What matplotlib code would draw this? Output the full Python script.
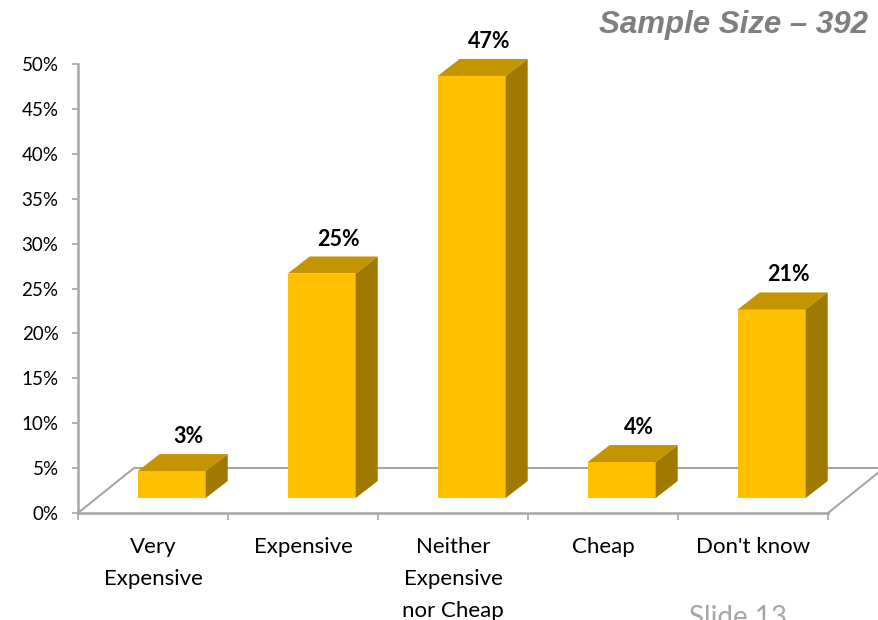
import matplotlib
matplotlib.use("Agg")
import matplotlib.pyplot as plt
from matplotlib.patches import Polygon
from matplotlib.ticker import FixedLocator

# ---- data ----
categories = ["Very\nExpensive", "Expensive", "Neither\nExpensive\nnor Cheap", "Cheap", "Don't know"]
values = [3, 25, 47, 4, 21]          # percent of respondents
y_ticks = [0, 5, 10, 15, 20, 25, 30, 35, 40, 45, 50]
y_tick_labels = [f"{t}%" for t in y_ticks]
title_text = "Sample Size \u2013 392"
footer_text = "Slide 13"

# ---- styling ----
FRONT = "#FFC000"
TOP = "#C49500"
SIDE = "#A07A00"
GRID = "#A6A6A6"
FONT = "Lato"

W, H, DPI = 879, 620, 100
fig = plt.figure(figsize=(W / DPI, H / DPI), dpi=DPI)
fig.patch.set_facecolor("white")

# plot area in pixels: category axis 78..828, value axis 513 (0%) .. 64 (50%)
ax = fig.add_axes([78 / W, (H - 513) / H, 750 / W, 449 / H])
n = len(categories)
ax.set_xlim(0, n)
ax.set_ylim(0, 0.5)
ax.set_facecolor("none")

# pixel -> data conversions for the oblique depth
PXX = n / 750.0
PXY = 0.5 / 449.0
floor_dx, floor_dy = 56 * PXX, 45 * PXY      # full floor depth
front_dx, front_dy = 18.7 * PXX, 15 * PXY    # bar front face depth
bar_dx, bar_dy = 22 * PXX, 17 * PXY          # bar thickness in depth
bar_w = 68 * PXX

# floor outline (back edge and side diagonals)
ax.plot([0, floor_dx, n + floor_dx, n], [0, floor_dy, floor_dy, 0],
        color=GRID, lw=1.5, clip_on=False, zorder=1)

centers = [i + 0.5 for i in range(n)]
fracs = [v / 100.0 for v in values]

# front faces
ax.bar([c + front_dx for c in centers], fracs, width=bar_w, bottom=front_dy,
       color=FRONT, edgecolor="none", zorder=3, clip_on=False)

for c, f, v in zip(centers, fracs, values):
    x0 = c + front_dx - bar_w / 2
    x1 = x0 + bar_w
    yb = front_dy
    yt = front_dy + f
    top = Polygon([(x0, yt), (x1, yt), (x1 + bar_dx, yt + bar_dy), (x0 + bar_dx, yt + bar_dy)],
                  closed=True, facecolor=TOP, edgecolor="none", zorder=3, clip_on=False)
    side = Polygon([(x1, yb), (x1 + bar_dx, yb + bar_dy), (x1 + bar_dx, yt + bar_dy), (x1, yt)],
                   closed=True, facecolor=SIDE, edgecolor="none", zorder=3, clip_on=False)
    ax.add_patch(top)
    ax.add_patch(side)
    ax.text(c + front_dx + 17 * PXX, yt + bar_dy + 11 * PXY, f"{v}%",
            ha="center", va="baseline", fontsize=15.5, fontweight="bold",
            family=FONT, color="black", zorder=5, clip_on=False)

# axes styling
for s in ("top", "right"):
    ax.spines[s].set_visible(False)
for s in ("left", "bottom"):
    ax.spines[s].set_color(GRID)
    ax.spines[s].set_linewidth(1.8)
    ax.spines[s].set_zorder(2)

ax.set_yticks([t / 100 for t in y_ticks])
ax.set_yticklabels(y_tick_labels, family=FONT, fontsize=13.5, color="black")
ax.tick_params(axis="y", direction="out", length=4, width=1.2, color=GRID, pad=10)

ax.xaxis.set_major_locator(FixedLocator(list(range(n + 1))))
ax.xaxis.set_minor_locator(FixedLocator(centers))
ax.set_xticklabels([])
ax.set_xticklabels(categories, minor=True, family=FONT, fontsize=16,
                   color="black", linespacing=1.75)
ax.tick_params(axis="x", which="major", direction="out", length=5, width=1.2, color=GRID)
ax.tick_params(axis="x", which="minor", length=0, pad=17)

fig.text(868 / W, (H - 25) / H, title_text, ha="right", va="center",
         fontsize=22.5, fontweight="bold", fontstyle="italic",
         family="Liberation Sans", color="#7F7F7F")
fig.text(738 / W, -6 / H, footer_text, ha="center", va="baseline",
         fontsize=20, family=FONT, color="#A6A6A6")

fig.savefig("out.png", dpi=DPI, facecolor="white")
